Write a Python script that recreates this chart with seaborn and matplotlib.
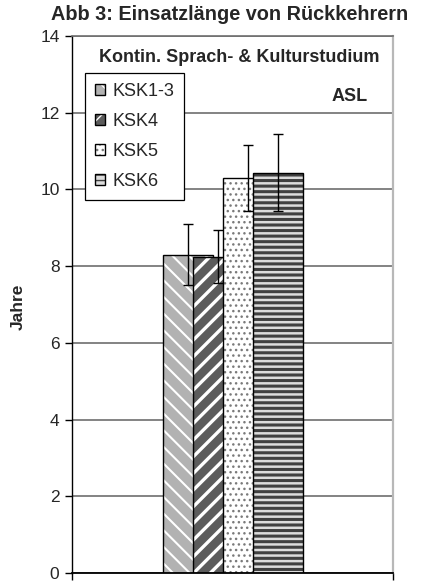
import numpy as np
import pandas as pd
import seaborn as sns
import matplotlib.pyplot as plt
from matplotlib.patches import Patch, Rectangle
from matplotlib.legend_handler import HandlerTuple

# Daten
gruppen = ["KSK1-3", "KSK4", "KSK5", "KSK6"]
jahre = [8.30, 8.25, 10.29, 10.44]
fehler = [0.80, 0.68, 0.86, 1.01]
studium = "ASL"

# Muster pro Gruppe: Flächenfarbe, Schraffurfarbe, Schraffur, Schraffur-Linienbreite
face_farben = ["#b2b2b2", "#5c5c5c", "white", "#dcdcdc"]
hatch_farben = ["white", "white", "#7a7a7a", "#404040"]
hatches = ["\\\\", "//", "...", "---"]
hatch_lw = [1.5, 2.4, 1.0, 2.2]

df = pd.DataFrame({"Studium": studium, "KSK": gruppen, "Jahre": jahre})

sns.set_theme(style="white")
plt.rcParams["font.family"] = ["Liberation Sans", "DejaVu Sans"]

fig = plt.figure(figsize=(4.29, 5.81), dpi=100)
ax = fig.add_axes([72 / 429, 1 - 573 / 581, 321 / 429, 537 / 581])

sns.barplot(data=df, x="Studium", y="Jahre", hue="KSK", hue_order=gruppen,
            errorbar=None, width=0.8, legend=False, ax=ax)

# Balken im Excel-Stil ueberlappen lassen und Muster setzen
mitten = []
for i, p in enumerate(ax.patches[:len(gruppen)]):
    c = p.get_x() + p.get_width() / 2
    mitten.append(c)
    w = p.get_width() * 5 / 3
    p.set_x(c - w / 2)
    p.set_width(w)
    p.set_facecolor(face_farben[i])
    p.set_edgecolor(hatch_farben[i])
    p.set_hatch(hatches[i])
    p.set_linewidth(0)
    if hasattr(p, "set_hatch_linewidth"):
        p.set_hatch_linewidth(hatch_lw[i])
    p.set_zorder(2 + i * 0.1)
    ax.add_patch(Rectangle(p.get_xy(), p.get_width(), p.get_height(), fill=False,
                           edgecolor="black", linewidth=1, zorder=2 + i * 0.1))

ax.errorbar(mitten, jahre, yerr=fehler, fmt="none", ecolor="black",
            elinewidth=1, capsize=3.5, capthick=1, zorder=5)

ax.set_xlim(-1.07, 1.07)
ax.set_ylim(0, 14)
ax.set_yticks(np.arange(0, 15, 2))
ax.set_xticks([-1.07, 1.07])
ax.set_xticklabels(["", ""])
ax.set_xlabel("")
ax.set_ylabel("")
ax.tick_params(axis="y", length=5, width=1, color="black", labelsize=12.5, pad=4, left=True)
ax.tick_params(axis="x", length=5, width=1, color="black", bottom=True)
ax.xaxis.get_major_ticks()[1].tick1line.set_color("#b0b0b0")
ax.set_axisbelow(True)
ax.yaxis.grid(True, color="#6e6e6e", linewidth=1.2)

ax.spines["left"].set_color("black")
ax.spines["left"].set_linewidth(1)
ax.spines["bottom"].set_color("black")
ax.spines["bottom"].set_linewidth(1.3)
ax.spines["top"].set_color("#6e6e6e")
ax.spines["top"].set_linewidth(1.2)
ax.spines["right"].set_color("#b8b8b8")
ax.spines["right"].set_linewidth(1.6)

ax.text(0.043, 13.45, "Kontin. Sprach- & Kulturstudium", ha="center", va="center",
        fontsize=13, fontweight="bold")
ax.text(0.90, 12.43, studium, ha="right", va="center", fontsize=13, fontweight="bold")

# Legende mit kleinen gemusterten Quadraten
handles = []
for i in range(len(gruppen)):
    hp = Patch(facecolor=face_farben[i], edgecolor=hatch_farben[i], hatch=hatches[i], linewidth=0)
    if hasattr(hp, "set_hatch_linewidth"):
        hp.set_hatch_linewidth(hatch_lw[i] * 0.6)
    op = Patch(fill=False, edgecolor="black", linewidth=1)
    handles.append((hp, op))
leg = ax.legend(handles, gruppen, handler_map={tuple: HandlerTuple(ndivide=1, pad=0)},
                loc="upper left", bbox_to_anchor=(13 / 321, 500 / 537), borderaxespad=0,
                fontsize=13, handlelength=0.55, handleheight=0.55, handletextpad=0.4,
                labelspacing=0.72, borderpad=0.55, fancybox=False, framealpha=1,
                edgecolor="black")
leg.get_frame().set_linewidth(0.9)

fig.text(230 / 429, 1 - 15 / 581, "Abb 3: Einsatzlänge von Rückkehrern", ha="center",
         va="center", fontsize=14.3, fontweight="bold")
fig.text(18 / 429, 1 - 307 / 581, "Jahre", rotation=90, ha="center", va="center",
         fontsize=12.5, fontweight="bold")

fig.savefig("out.png", dpi=100)
